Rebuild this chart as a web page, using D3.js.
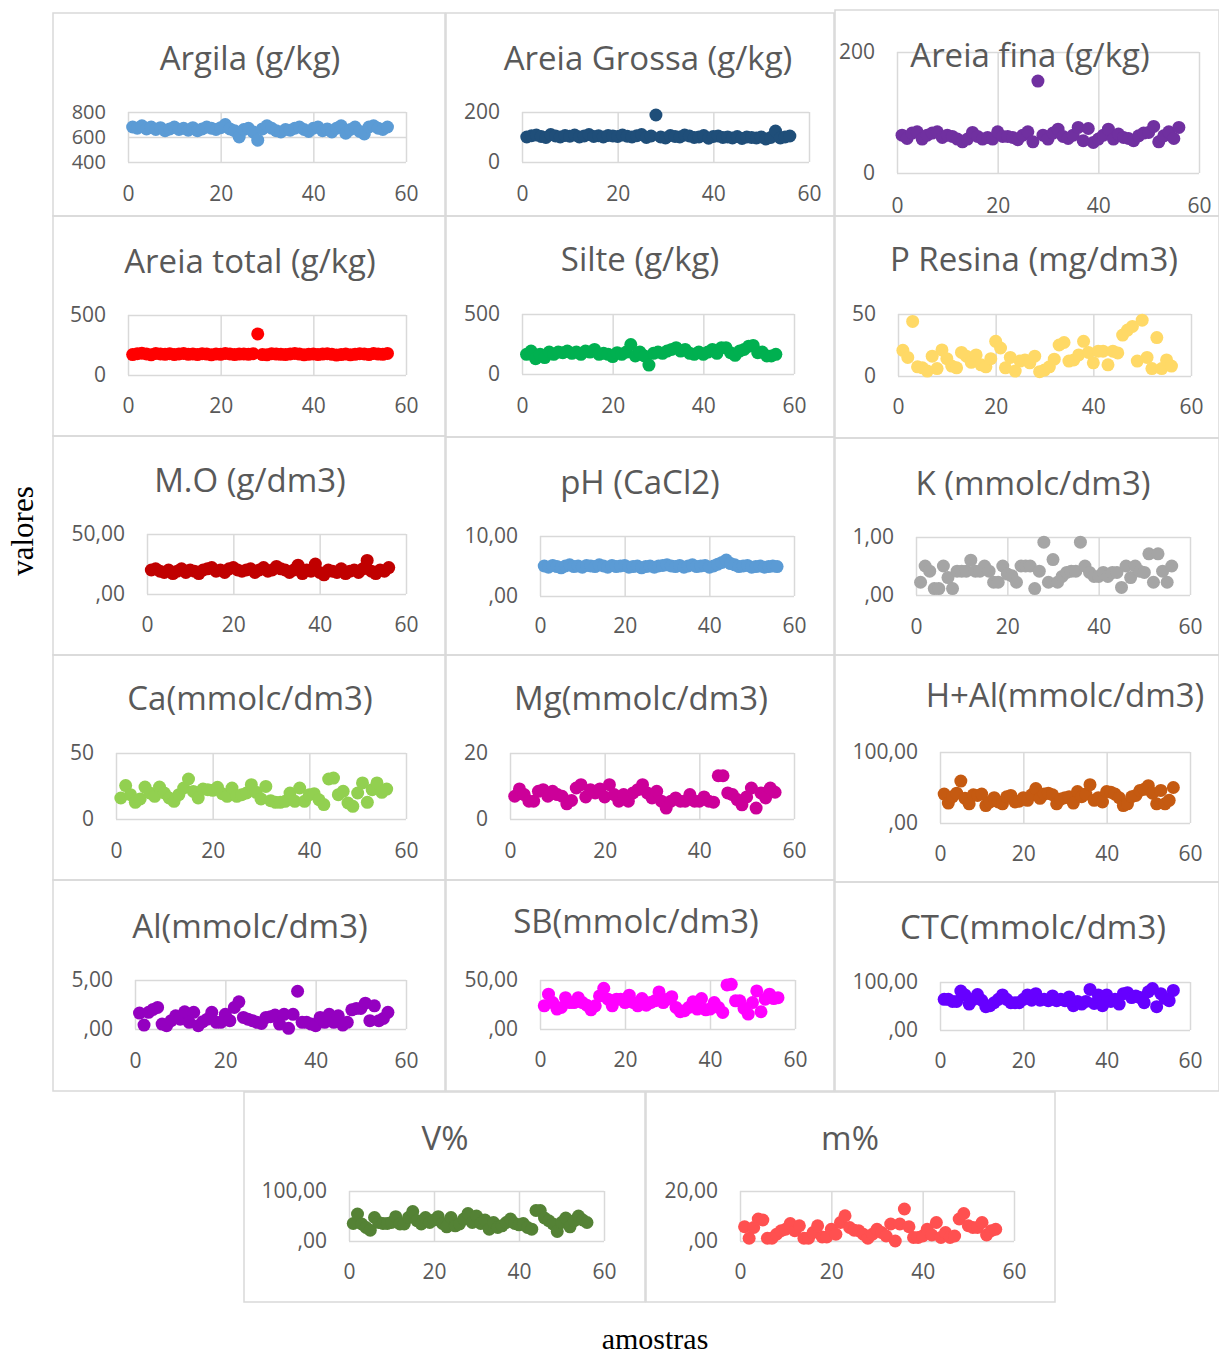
<!DOCTYPE html>
<html>
<head>
<meta charset="utf-8">
<script src="https://cdn.jsdelivr.net/npm/d3@7"></script>
<style>
  body { margin: 0; background: #fff; }
  svg { display: block; }
</style>
</head>
<body>
<svg id="chart"></svg>
<script>
// sample ids (amostras)
const amostras = [1,2,3,4,5,6,7,8,9,10,11,12,13,14,15,16,17,18,19,20,21,22,23,24,25,26,27,28,
  29,30,31,32,33,34,35,36,37,38,39,40,41,42,43,44,45,46,47,48,49,50,51,52,53,54,55,56];

const argila = [680,670,690,665,680,660,675,650,665,680,660,670,655,675,650,665,680,670,660,675,700,665,650,600,
  660,670,640,575,665,690,670,650,640,660,655,670,680,660,645,670,680,650,665,640,670,690,630,660,680,645,625,680,690,670,660,680];
const areiaGrossa = [100,105,108,102,98,110,104,100,106,103,108,100,104,110,102,105,100,106,104,102,108,103,100,105,
  110,98,104,188,100,96,106,102,100,108,104,98,100,106,95,102,104,98,100,96,102,94,100,98,96,100,92,98,124,96,100,104];
const areiaFina = [62.6,57,66,68,56,62.6,66,68,58.8,62.6,60.4,56,51.6,56,67,60.4,56,58.8,56,68,60.4,60.4,58.8,55,
  62.6,68,51.6,152,62.6,56,66,72.5,60.4,57,62.6,75.3,53.3,73.6,50.5,56,62.6,72.5,56,64.3,58.8,57,53.3,61.5,66,67,77,51.6,61.5,68,57,75.3];
const areiaTotal = [170,178,182,175,168,180,176,172,178,170,175,180,172,176,170,178,174,168,176,172,180,175,170,174,
  176,172,178,342,170,168,178,174,172,170,176,180,174,168,172,176,170,174,178,172,166,170,174,168,172,178,176,170,180,174,172,180];
const silte = [164,191,128,164,137,183,164,183,178,191,172,183,164,191,183,205,164,172,164,145,178,164,183,246,
  150,183,150,74,172,183,172,191,205,219,191,205,172,164,183,164,183,205,172,219,219,178,156,191,205,232,238,178,183,150,150,164];
const pResina = [20.7,15,44,7.4,6.6,4,16,6,21,14,8,6.6,19,16,11,17,9,7.4,14,28,22.6,6.6,15,4,
  12,13,10.6,16,3.5,4.8,7.4,13.6,25,27,12,13,17,28,19,10.6,20,20,9,20,18.6,33,37,40,12,45,15,6,31,6,13,8];
const mo = [20,21,19,18,20,17,19,21,18,20,19,17,20,21,22,19,20,18,21,22,20,19,20,21,
  18,20,22,19,20,23,21,20,18,20,24,17,20,19,25,18,16,20,19,18,21,17,19,20,18,21,28,19,17,20,19,22];
const ph = [5.0,4.8,5.1,4.9,4.7,5.0,5.2,4.9,5.0,4.8,5.1,5.0,4.9,5.2,5.0,4.8,5.1,4.9,5.0,5.1,4.8,4.9,5.0,4.7,
  4.9,5.0,4.8,5.0,5.1,5.2,5.0,4.9,5.1,4.8,5.0,5.2,4.9,5.0,5.1,4.8,5.0,5.3,5.6,6.0,5.4,5.2,4.9,5.0,5.1,4.8,4.9,5.0,4.8,4.9,5.0,4.9];
const k = [0.22,0.5,0.41,0.11,0.11,0.5,0.3,0.11,0.41,0.41,0.41,0.6,0.41,0.41,0.5,0.41,0.22,0.22,0.5,0.36,0.33,0.22,0.5,0.5,
  0.5,0.11,0.41,0.91,0.22,0.61,0.22,0.32,0.39,0.41,0.41,0.91,0.5,0.39,0.32,0.32,0.39,0.32,0.39,0.39,0.13,0.5,0.3,0.5,0.41,0.39,0.71,0.22,0.71,0.41,0.22,0.5];
const ca = [15.9,25.3,18.4,12.6,15.2,24.2,19.7,17.2,24.2,19.7,15.9,13.4,18.4,23.5,30.3,20.9,15.9,22.7,22.2,21.7,24,19.2,17.2,23.5,
  17.2,18.4,19.7,26,20.2,15.2,24.7,13.9,12.6,12.6,13.4,19.7,13.4,23.5,13.4,18.4,19.2,14.6,10.9,30.3,31,18.4,21,12.1,9.6,19.7,27.3,12.6,22.2,27.3,20.2,22.7];
const mg = [6.9,9.1,7.4,5.4,5.4,8.4,8.9,6.9,8.4,7.4,6.9,4.6,5.6,9.4,10.4,6.7,8.9,7.9,9.1,6.7,10.4,7.4,5.4,7.4,
  5.4,7.9,8.9,10.4,7.9,6.4,8.4,5.4,3.3,5.4,6.4,5.4,5.4,7.4,5.4,5.4,6.7,5.4,5.1,13.1,13.1,7.9,7.4,5.9,4.3,6.7,9.4,3.3,7.9,6.4,9.4,8.1];
const hal = [40.8,28,37,42,59,34.7,27,39.8,38.8,40.8,24.5,29.6,35.7,29.6,27,37,38.8,29.6,30.6,35.7,32,39.8,48.5,34.7,
  40.8,42,39.8,27,33.7,35.7,37,28,44.4,37,40.8,54,32,35.7,29.6,44.4,43.4,40.8,35.7,24.5,27,37,38.8,45.9,47.4,52.6,42,27,45.9,27,32,50];
const al = [1.62,0.4,1.7,2.0,2.2,0.5,0.34,0.85,1.35,1.0,1.76,0.68,1.7,0.34,0.74,1.0,1.7,0.68,0.68,1.5,0.85,2.2,2.77,1.18,
  1.0,0.85,0.68,0.57,1.18,1.25,1.42,0.5,1.5,0.07,1.5,3.85,0.68,0.68,0.5,0.34,1.18,0.68,1.5,0.68,1.35,0.4,0.68,1.96,2.1,2.1,2.64,0.85,2.36,0.85,1.08,1.7];
const sb = [23.6,35.5,27,20.3,22,32,27,27,32,27,24.3,19.6,23.6,33.8,41.6,30.4,23.6,30.4,30.4,27,34.5,27,23.6,31,
  24.3,27,28.7,37.8,27,30.4,33,22,17.6,18.6,22,27.7,20.3,31,19.6,20.3,27,22,16.9,45,45.6,28.7,28.7,21,15.2,27,38.9,17.6,30.4,35.5,31,32];
const ctc = [64,64,59.5,59.5,81,73,54,64,74,62,48.6,50.7,57,64,73,64,57,57,57,64,73,62,75.7,62,
  64,61,71,61,64,61,69,50.7,59.5,54,59.5,84.5,55.4,73,50.7,73,59.5,64,54,75.7,77.7,67.6,71,67.6,57,79.7,86.5,48.6,75.7,66,61,82.4];
const vPct = [35,54,34,27,21.6,47,37,35,35,37,48.6,34,34,47,59,40.5,34,47,37,42,48.6,35,28.4,47,
  30.4,34,44,55,37,50,35,42,23.6,37,27,30.4,37,44,35,32.4,35,27,23.6,61,61,46,40.5,34,19,37,46,28.4,40.5,50,42,37];
const mPct = [5.7,1.1,5.4,8.8,8.4,1.1,1.1,2.7,4.1,4.7,7,4.1,6.1,1.1,1.1,3.4,6.1,1.6,1.6,4.7,2.7,7.4,10.1,5.4,
  4.3,4.1,2.7,1.1,2.7,4.7,3.4,2,6.8,0,6.8,12.8,5.7,1.4,1.4,2,4.7,2.4,7.4,1.4,3.4,1.4,2,8.8,11,6.1,5.4,5.4,7.4,2.4,4.1,4.7];

const xTicks = [0, 20, 40, 60];

// layout: box = outer frame [x, y, w, h], plot = [x at 0, x at 60, y top, y bottom]
const panels = [
  { title: "Argila (g/kg)", values: argila, color: "#5b9bd5", yDomain: [400, 800], yTicks: [400, 600, 800], yLabels: ["400", "600", "800"],
    box: [53, 13, 392, 203], plot: [128, 406, 112, 162], titleX: 250, titleY: 57, xLabelY: 194 },
  { title: "Areia Grossa (g/kg)", values: areiaGrossa, color: "#1f4e79", yDomain: [0, 200], yTicks: [0, 200], yLabels: ["0", "200"],
    box: [446, 13, 388, 203], plot: [522, 809, 112, 162], titleX: 648, titleY: 57, xLabelY: 194 },
  { title: "Areia fina (g/kg)", values: areiaFina, color: "#7030a0", yDomain: [0, 200], yTicks: [0, 200], yLabels: ["0", "200"],
    box: [835, 10, 384, 206], plot: [897, 1199, 52, 173], titleX: 1030, titleY: 54, xLabelY: 206 },
  { title: "Areia total (g/kg)", values: areiaTotal, color: "#ff0000", yDomain: [0, 500], yTicks: [0, 500], yLabels: ["0", "500"],
    box: [53, 216, 392, 220], plot: [128, 406, 315, 375], titleX: 250, titleY: 260, xLabelY: 406 },
  { title: "Silte (g/kg)", values: silte, color: "#00b050", yDomain: [0, 500], yTicks: [0, 500], yLabels: ["0", "500"],
    box: [446, 216, 388, 221], plot: [522, 794, 314, 374], titleX: 640, titleY: 258, xLabelY: 406 },
  { title: "P Resina (mg/dm3)", values: pResina, color: "#ffd966", yDomain: [0, 50], yTicks: [0, 50], yLabels: ["0", "50"],
    box: [835, 216, 384, 222], plot: [898, 1191, 314, 376], titleX: 1034, titleY: 258, xLabelY: 407 },
  { title: "M.O (g/dm3)", values: mo, color: "#c00000", yDomain: [0, 50], yTicks: [0, 50], yLabels: [",00", "50,00"],
    box: [53, 436, 392, 219], plot: [147, 406, 534, 594], titleX: 250, titleY: 479, xLabelY: 625 },
  { title: "pH (CaCl2)", values: ph, color: "#5b9bd5", yDomain: [0, 10], yTicks: [0, 10], yLabels: [",00", "10,00"],
    box: [446, 437, 388, 218], plot: [540, 794, 536, 596], titleX: 640, titleY: 481, xLabelY: 626 },
  { title: "K (mmolc/dm3)", values: k, color: "#a5a5a5", yDomain: [0, 1], yTicks: [0, 1], yLabels: [",00", "1,00"],
    box: [835, 438, 384, 217], plot: [916, 1190, 537, 595], titleX: 1033, titleY: 482, xLabelY: 627 },
  { title: "Ca(mmolc/dm3)", values: ca, color: "#92d050", yDomain: [0, 50], yTicks: [0, 50], yLabels: ["0", "50"],
    box: [53, 655, 392, 225], plot: [116, 406, 753, 819], titleX: 250, titleY: 697, xLabelY: 851 },
  { title: "Mg(mmolc/dm3)", values: mg, color: "#cc0099", yDomain: [0, 20], yTicks: [0, 20], yLabels: ["0", "20"],
    box: [446, 655, 388, 225], plot: [510, 794, 753, 819], titleX: 641, titleY: 697, xLabelY: 851 },
  { title: "H+Al(mmolc/dm3)", values: hal, color: "#c55a11", yDomain: [0, 100], yTicks: [0, 100], yLabels: [",00", "100,00"],
    box: [835, 655, 384, 227], plot: [940, 1190, 752, 823], titleX: 1065, titleY: 694, xLabelY: 854 },
  { title: "Al(mmolc/dm3)", values: al, color: "#9400c0", yDomain: [0, 5], yTicks: [0, 5], yLabels: [",00", "5,00"],
    box: [53, 880, 392, 211], plot: [135, 406, 980, 1029], titleX: 250, titleY: 925, xLabelY: 1061 },
  { title: "SB(mmolc/dm3)", values: sb, color: "#ff00ff", yDomain: [0, 50], yTicks: [0, 50], yLabels: [",00", "50,00"],
    box: [446, 880, 388, 211], plot: [540, 795, 980, 1029], titleX: 636, titleY: 920, xLabelY: 1060 },
  { title: "CTC(mmolc/dm3)", values: ctc, color: "#6600ff", yDomain: [0, 100], yTicks: [0, 100], yLabels: [",00", "100,00"],
    box: [835, 882, 384, 209], plot: [940, 1190, 982, 1030], titleX: 1033, titleY: 926, xLabelY: 1061 },
  { title: "V%", values: vPct, color: "#548235", yDomain: [0, 100], yTicks: [0, 100], yLabels: [",00", "100,00"],
    box: [244, 1092, 401, 210], plot: [349, 604, 1191, 1241], titleX: 445, titleY: 1137, xLabelY: 1272 },
  { title: "m%", values: mPct, color: "#ff5050", yDomain: [0, 20], yTicks: [0, 20], yLabels: [",00", "20,00"],
    box: [646, 1092, 409, 210], plot: [740, 1014, 1191, 1241], titleX: 850, titleY: 1137, xLabelY: 1272 }
];

const width = 1219;
const height = 1355;
const fontSans = "'Open Sans', 'Noto Sans', sans-serif";
const fontSerif = "'Liberation Serif', 'DejaVu Serif', serif";
const textColor = "#595959";
const gridColor = "#d9d9d9";

const svg = d3.select("#chart").attr("width", width).attr("height", height);
svg.append("rect").attr("width", width).attr("height", height).attr("fill", "#fff");

panels.forEach((p) => {
  const g = svg.append("g");
  const [x0, x1, yTop, yBottom] = p.plot;

  // outer frame
  g.append("rect")
    .attr("x", p.box[0]).attr("y", p.box[1])
    .attr("width", p.box[2]).attr("height", p.box[3])
    .attr("fill", "none").attr("stroke", gridColor).attr("stroke-width", 1.5);

  const x = d3.scaleLinear().domain([0, 60]).range([x0, x1]);
  const y = d3.scaleLinear().domain(p.yDomain).range([yBottom, yTop]);

  // x axis + vertical gridlines
  g.append("g")
    .attr("transform", `translate(0,${yBottom})`)
    .call(d3.axisBottom(x).tickValues(xTicks).tickSize(-(yBottom - yTop)).tickPadding(p.xLabelY - yBottom - 7.5))
    .call((a) => a.select(".domain").remove())
    .call((a) => a.selectAll(".tick line").attr("stroke", gridColor).attr("stroke-width", 1.5))
    .call((a) => a.selectAll(".tick text").attr("fill", textColor))
    .attr("font-family", fontSans).attr("font-size", 21);

  // y axis + horizontal gridlines
  g.append("g")
    .attr("transform", `translate(${x0},0)`)
    .call(d3.axisLeft(y).tickValues(p.yTicks).tickFormat((d, i) => p.yLabels[i]).tickSize(-(x1 - x0)).tickPadding(22))
    .call((a) => a.select(".domain").remove())
    .call((a) => a.selectAll(".tick line").attr("stroke", gridColor).attr("stroke-width", 1.5))
    .call((a) => a.selectAll(".tick text").attr("fill", textColor))
    .attr("font-family", fontSans).attr("font-size", p.yTicks.length > 2 ? 20 : 21);

  // points
  g.append("g")
    .attr("fill", p.color)
    .selectAll("circle")
    .data(amostras.map((a, i) => [a, p.values[i]]))
    .join("circle")
    .attr("cx", (d) => x(d[0]))
    .attr("cy", (d) => y(d[1]))
    .attr("r", 6.5);

  // title
  g.append("text")
    .attr("x", p.titleX).attr("y", p.titleY)
    .attr("text-anchor", "middle").attr("dominant-baseline", "central")
    .attr("font-family", fontSans).attr("font-size", 33)
    .attr("fill", textColor)
    .text(p.title);
});

// axis titles
svg.append("text")
  .attr("transform", `translate(22,531) rotate(-90)`)
  .attr("text-anchor", "middle").attr("dominant-baseline", "central")
  .attr("font-family", fontSerif).attr("font-size", 31)
  .attr("fill", "#000")
  .text("valores");

svg.append("text")
  .attr("x", 655).attr("y", 1338)
  .attr("text-anchor", "middle").attr("dominant-baseline", "central")
  .attr("font-family", fontSerif).attr("font-size", 30)
  .attr("fill", "#000")
  .text("amostras");
</script>
</body>
</html>
